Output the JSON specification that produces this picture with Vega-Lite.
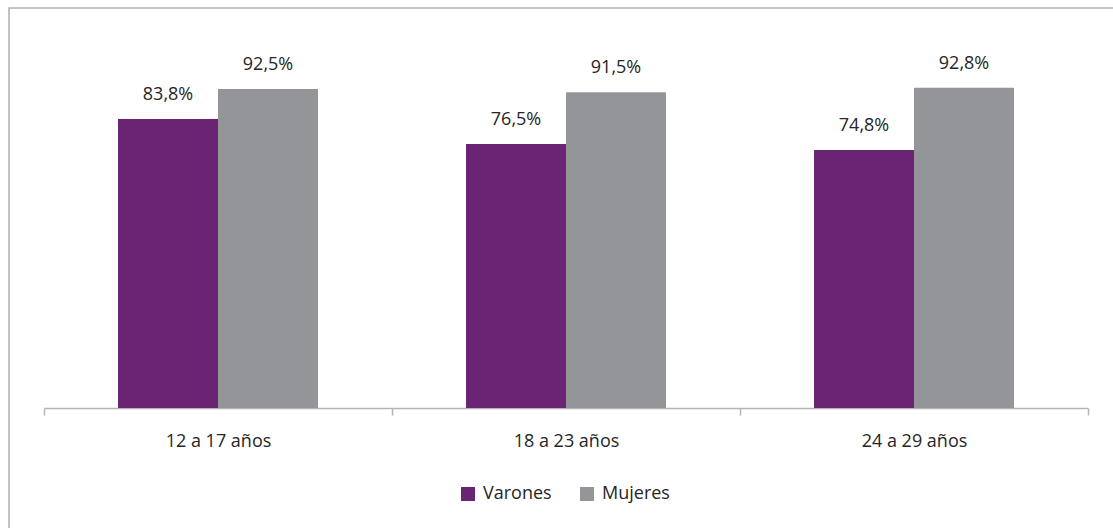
{
  "$schema": "https://vega.github.io/schema/vega-lite/v6.json",
  "width": 1110,
  "height": 525,
  "autosize": {"type": "none"},
  "padding": {"left": 9, "top": 8, "right": 0, "bottom": 0},
  "background": "white",
  "config": {
    "locale": {"number": {"decimal": ",", "thousands": ".", "grouping": [3], "currency": ["", " €"]}},
    "view": {"stroke": "#b0b0b0", "strokeWidth": 1.5},
    "font": "Open Sans"
  },
  "data": {
    "values": [
      {"grupo": "12 a 17 años", "sexo": "Varones", "valor": 0.838},
      {"grupo": "12 a 17 años", "sexo": "Mujeres", "valor": 0.925},
      {"grupo": "18 a 23 años", "sexo": "Varones", "valor": 0.765},
      {"grupo": "18 a 23 años", "sexo": "Mujeres", "valor": 0.915},
      {"grupo": "24 a 29 años", "sexo": "Varones", "valor": 0.748},
      {"grupo": "24 a 29 años", "sexo": "Mujeres", "valor": 0.928}
    ]
  },
  "encoding": {
    "x": {
      "field": "grupo",
      "type": "nominal",
      "sort": null,
      "scale": {"range": [35, 1079], "paddingInner": 0, "paddingOuter": 0},
      "axis": {
        "title": null,
        "orient": "bottom",
        "offset": -125,
        "labelAngle": 0,
        "tickBand": "extent",
        "domainColor": "#b5b5b5",
        "domainWidth": 1.5,
        "tickColor": "#b5b5b5",
        "tickWidth": 1.5,
        "tickSize": 7,
        "labelPadding": 17,
        "labelFontSize": 18,
        "labelColor": "#262626",
        "labelFont": "Open Sans"
      }
    },
    "xOffset": {
      "field": "sexo",
      "type": "nominal",
      "sort": ["Varones", "Mujeres"],
      "scale": {"paddingInner": 0, "paddingOuter": 0.74}
    },
    "y": {
      "field": "valor",
      "type": "quantitative",
      "scale": {"domain": [0, 1], "range": [400, 55], "nice": false, "zero": true},
      "axis": null
    }
  },
  "layer": [
    {
      "mark": {"type": "bar"},
      "encoding": {
        "color": {
          "field": "sexo",
          "type": "nominal",
          "sort": ["Varones", "Mujeres"],
          "scale": {"domain": ["Varones", "Mujeres"], "range": ["#6b2474", "#949598"]},
          "legend": {
            "title": null,
            "orient": "none",
            "direction": "horizontal",
            "legendX": 450,
            "legendY": 477,
            "padding": 0,
            "symbolType": "square",
            "symbolSize": 196,
            "symbolStrokeWidth": 0,
            "symbolOpacity": 1,
            "labelFontSize": 18,
            "labelColor": "#262626",
            "labelFont": "Open Sans",
            "labelOffset": 6,
            "columnPadding": 26
          }
        }
      }
    },
    {
      "mark": {"type": "text", "baseline": "alphabetic", "dy": -19, "fontSize": 18, "color": "#262626", "font": "Open Sans"},
      "encoding": {
        "text": {"field": "valor", "type": "quantitative", "format": ".1%"}
      }
    }
  ]
}
